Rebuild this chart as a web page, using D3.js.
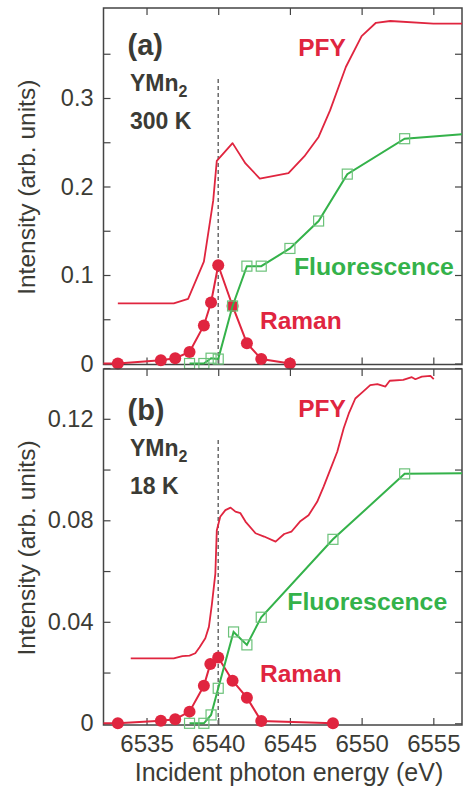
<!DOCTYPE html>
<html>
<head>
<meta charset="utf-8">
<title>YMn2 PFY / Raman / Fluorescence</title>
<script src="https://d3js.org/d3.v7.min.js"></script>
<style>
  body { margin: 0; background: #fff; }
  svg text { font-family: "Liberation Sans", Arial, Helvetica, sans-serif; }
</style>
</head>
<body>
<svg id="chart" width="466" height="790"></svg>
<script>
// ---------------- data ----------------
var xTicks = [6535, 6540, 6545, 6550, 6555];

// panel (a) 300 K
var pfyA_E = [6533, 6536.9, 6537.9, 6539.0, 6539.65, 6539.9, 6541.0, 6541.9, 6542.9, 6544.9, 6546.0, 6547.0, 6547.8, 6548.9, 6550.0, 6551.0, 6552.0, 6555.0, 6557];
var pfyA_I = [0.068, 0.068, 0.073, 0.115, 0.184, 0.229, 0.249, 0.226, 0.209, 0.215, 0.234, 0.256, 0.286, 0.335, 0.370, 0.385, 0.387, 0.384, 0.384];
var ramanA_E = [6533, 6536, 6537, 6538, 6539, 6539.5, 6540, 6541, 6542, 6543, 6545];
var ramanA_I = [0.0, 0.0036, 0.006, 0.013, 0.043, 0.069, 0.111, 0.065, 0.023, 0.005, 0.0];
var fluoA_E = [6538, 6539, 6539.5, 6540, 6541, 6542, 6543, 6545, 6547, 6549, 6553];
var fluoA_I = [0.0, 0.0, 0.006, 0.005, 0.065, 0.110, 0.110, 0.130, 0.161, 0.214, 0.254];
var fluoA_tail = [6557, 0.259];
var yTicksA = [0, 0.1, 0.2, 0.3];
var yMinorA = [0.05, 0.15, 0.25, 0.35];

// panel (b) 18 K
var pfyB_E = [6533.9, 6536.9, 6537.5, 6538.0, 6538.4, 6538.7, 6539.1, 6539.35, 6539.56, 6539.8, 6539.9, 6540.14, 6540.5, 6540.86, 6541.2, 6541.55, 6541.9, 6542.6, 6543.2, 6544.0, 6544.6, 6545.1, 6545.7, 6546.3, 6546.9, 6547.35, 6547.8, 6548.3, 6548.75, 6549.1, 6549.56, 6550.1, 6550.6, 6551.1, 6551.66, 6551.96, 6552.9, 6553.5, 6553.75, 6554.2, 6554.8, 6555.03];
var pfyB_I = [0.0256, 0.0256, 0.0265, 0.0267, 0.0276, 0.030, 0.0335, 0.038, 0.047, 0.059, 0.076, 0.0814, 0.084, 0.085, 0.0834, 0.0828, 0.0795, 0.0749, 0.0736, 0.0716, 0.0746, 0.0755, 0.0795, 0.082, 0.0873, 0.0933, 0.0998, 0.107, 0.1163, 0.122, 0.128, 0.1307, 0.1333, 0.1337, 0.1327, 0.135, 0.1353, 0.1364, 0.1356, 0.1366, 0.1369, 0.1356];
var ramanB_E = [6533, 6536, 6537, 6538, 6539, 6539.45, 6540, 6541, 6542, 6543, 6548];
var ramanB_I = [0.0, 0.001, 0.0016, 0.0046, 0.0148, 0.0234, 0.0259, 0.0168, 0.0101, 0.0009, 0.0];
var fluoB_E = [6538, 6539, 6539.5, 6540, 6541.07, 6542, 6543, 6548, 6553];
var fluoB_I = [0.0, 0.0, 0.0033, 0.0138, 0.036, 0.0309, 0.0418, 0.0725, 0.0983];
var fluoB_tail = [6557, 0.0985];
var yTicksB = [0, 0.04, 0.08, 0.12];
var yMinorB = [0.02, 0.06, 0.10, 0.14];

// ---------------- layout ----------------
var RED = "#e0253f", GREEN = "#34b24a", SQ = "#6cc27a", INK = "#3b3b35", FRAME = "#444";
var left = 103.5, right = 462;

var svg = d3.select("#chart");

var x = d3.scaleLinear().domain([6532, 6557]).range([left, right]);

function zip(E, I) { return E.map(function(e, i) { return [e, I[i]]; }); }

function panel(o) {
  var y = d3.scaleLinear().domain(o.ydom).range(o.yrange);
  var g = svg.append("g");

  // ticks, all pointing inward
  g.append("g").attr("transform", "translate(" + left + ",0)")
    .call(d3.axisLeft(y).tickValues(o.yTicks.concat(o.yMinor).sort()).tickSize(-7).tickPadding(10)
      .tickFormat(function(d) { return o.yTicks.indexOf(d) >= 0 ? d3.format("")(d) : ""; }));
  g.append("g").attr("transform", "translate(" + right + ",0)")
    .call(d3.axisRight(y).tickValues(o.yTicks.concat(o.yMinor)).tickSize(-7).tickFormat(""));
  g.append("g").attr("transform", "translate(0," + o.top + ")")
    .call(d3.axisTop(x).tickValues(xTicks).tickSize(-7).tickFormat(""));
  g.append("g").attr("class", "xbot").attr("transform", "translate(0," + o.bottom + ")")
    .call(d3.axisBottom(x).tickValues(xTicks).tickSize(-7).tickPadding(10)
      .tickFormat(o.xLabels ? d3.format("d") : ""));
  g.selectAll(".domain").remove();
  g.selectAll(".tick line").attr("stroke", FRAME).attr("stroke-width", 1.2);
  g.selectAll(".tick text").attr("fill", INK).attr("font-size", "23.5px");
  g.selectAll(".xbot .tick text").attr("font-size", "24px");

  // frame
  g.append("rect").attr("x", left).attr("y", o.top)
    .attr("width", right - left).attr("height", o.bottom - o.top)
    .attr("fill", "none").attr("stroke", FRAME).attr("stroke-width", 1.5);

  // dashed guide at 6540 eV
  g.append("line").attr("x1", x(6540)).attr("x2", x(6540))
    .attr("y1", y(o.dashTop)).attr("y2", o.bottom)
    .attr("stroke", "#6a6a6a").attr("stroke-width", 1.5).attr("stroke-dasharray", "4,3");

  var line = d3.line().x(function(d) { return x(d[0]); }).y(function(d) { return y(d[1]); });

  // PFY
  g.append("path").datum(zip(o.pfyE, o.pfyI)).attr("d", line)
    .attr("fill", "none").attr("stroke", RED).attr("stroke-width", 1.8).attr("stroke-linejoin", "round");

  // Raman: line starts at left edge
  var ram = zip(o.ramE, o.ramI);
  g.append("path").datum([[x.domain()[0], ram[0][1]]].concat(ram)).attr("d", line)
    .attr("fill", "none").attr("stroke", RED).attr("stroke-width", 2);
  g.selectAll("circle.ram").data(ram).enter().append("circle").attr("class", "ram")
    .attr("cx", function(d) { return x(d[0]); }).attr("cy", function(d) { return y(d[1]); })
    .attr("r", 6).attr("fill", RED);

  // Fluorescence
  var flu = zip(o.fluE, o.fluI);
  g.append("path").datum(flu.concat([o.fluTail])).attr("d", line)
    .attr("fill", "none").attr("stroke", GREEN).attr("stroke-width", 2);
  g.selectAll("rect.flu").data(flu).enter().append("rect").attr("class", "flu")
    .attr("x", function(d) { return x(d[0]) - 5; }).attr("y", function(d) { return y(d[1]) - 5; })
    .attr("width", 10).attr("height", 10)
    .attr("fill", "none").attr("stroke", SQ).attr("stroke-width", 1.2);

  // labels
  g.append("text").attr("x", left + 24).attr("y", o.top + o.tagDy)
    .attr("font-size", "29px").attr("font-weight", "bold").attr("fill", INK).text(o.tag);
  var ym = g.append("text").attr("x", left + 26.5).attr("y", o.top + o.tagDy + 36)
    .attr("font-size", "23px").attr("font-weight", "bold").attr("fill", INK);
  ym.append("tspan").text("YMn");
  ym.append("tspan").attr("font-size", "16px").attr("dy", 6).text("2");
  g.append("text").attr("x", left + 26.5).attr("y", o.top + o.tagDy + 74)
    .attr("font-size", "23px").attr("font-weight", "bold").attr("fill", INK).text(o.temp);

  g.append("text").attr("x", x(o.pfyLab[0])).attr("y", y(o.pfyLab[1]))
    .attr("font-size", "24.5px").attr("font-weight", "bold").attr("fill", RED).text("PFY");
  g.append("text").attr("x", x(o.fluLab[0])).attr("y", y(o.fluLab[1]))
    .attr("font-size", "24.8px").attr("font-weight", "bold").attr("fill", GREEN).text("Fluorescence");
  g.append("text").attr("x", x(o.ramLab[0])).attr("y", y(o.ramLab[1]))
    .attr("font-size", "24.5px").attr("font-weight", "bold").attr("fill", RED).text("Raman");

  // y title
  g.append("text").attr("transform", "translate(35," + ((o.top + o.bottom) / 2 + 1) + ") rotate(-90)")
    .attr("text-anchor", "middle").attr("font-size", "24.5px").attr("fill", INK)
    .text("Intensity (arb. units)");
}

panel({
  top: 8, bottom: 364.5, ydom: [0, 0.4], yrange: [363.5, 9.5],
  yTicks: yTicksA, yMinor: yMinorA, xLabels: false, dashTop: 0.3215,
  pfyE: pfyA_E, pfyI: pfyA_I, ramE: ramanA_E, ramI: ramanA_I,
  fluE: fluoA_E, fluI: fluoA_I, fluTail: fluoA_tail,
  tag: "(a)", tagDy: 47, temp: "300 K",
  pfyLab: [6545.58, 0.3475], fluLab: [6545.28, 0.1], ramLab: [6542.91, 0.039]
});

panel({
  top: 369, bottom: 725, ydom: [0, 0.14], yrange: [723.3, 368.05],
  yTicks: yTicksB, yMinor: yMinorB, xLabels: true, dashTop: 0.1116,
  pfyE: pfyB_E, pfyI: pfyB_I, ramE: ramanB_E, ramI: ramanB_I,
  fluE: fluoB_E, fluI: fluoB_I, fluTail: fluoB_tail,
  tag: "(b)", tagDy: 51, temp: "18 K",
  pfyLab: [6545.58, 0.1209], fluLab: [6544.82, 0.04465], ramLab: [6542.91, 0.0164]
});

// x title
svg.append("text").attr("x", 289).attr("y", 781).attr("text-anchor", "middle")
  .attr("font-size", "25px").attr("fill", INK).text("Incident photon energy (eV)");
</script>
</body>
</html>
